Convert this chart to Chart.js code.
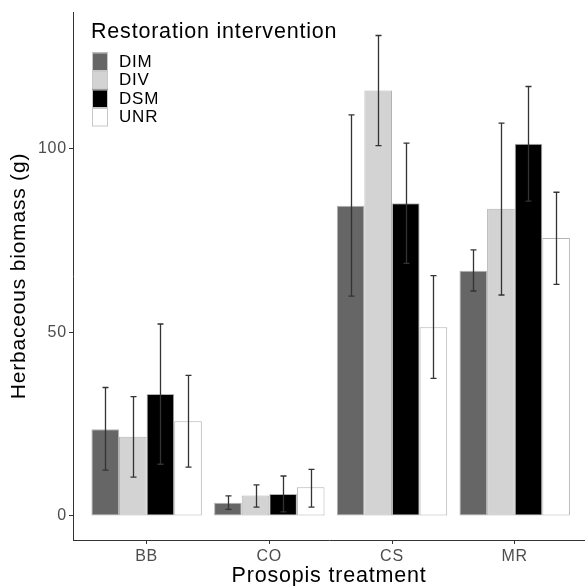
<!DOCTYPE html>
<html>
<head>
<meta charset="utf-8">
<script src="https://cdn.jsdelivr.net/npm/chart.js@4"></script>
<style>
  html, body { margin: 0; padding: 0; background: #fff; }
  canvas { display: block; }
</style>
</head>
<body>
<canvas id="myChart" width="585" height="586"></canvas>
<script>
// Prosopis treatment on the x axis
const categories = ['BB', 'CO', 'CS', 'MR'];
const interventions = ['DIM', 'DIV', 'DSM', 'UNR'];
const yTicks = [0, 50, 100];

// mean herbaceous biomass (g)
const dimMean = [23.6, 3.6, 84.5, 66.8];
const divMean = [21.6, 5.6, 115.9, 83.7];
const dsmMean = [33.2, 6.0, 85.2, 101.4];
const unrMean = [25.8, 7.8, 51.4, 75.7];

// error bar ends
const dimLow = [12.5, 1.8, 59.9, 61.3];
const dimHigh = [35.0, 5.5, 109.3, 72.5];
const divLow = [10.6, 2.4, 100.9, 60.2];
const divHigh = [32.5, 8.5, 130.9, 107.0];
const dsmLow = [14.1, 1.1, 68.8, 85.8];
const dsmHigh = [52.3, 10.9, 101.6, 117.0];
const unrLow = [13.3, 2.4, 37.5, 63.1];
const unrHigh = [38.3, 12.7, 65.5, 88.2];

const means = [dimMean, divMean, dsmMean, unrMean];
const lows = [dimLow, divLow, dsmLow, unrLow];
const highs = [dimHigh, divHigh, dsmHigh, unrHigh];
const fills = ['#666666', '#d3d3d3', '#000000', '#ffffff'];

const FONT = "'Liberation Sans', Arial, sans-serif";

// the reference text runs a bit wide, so space the letters out slightly
const spacing = {
  id: 'spacing',
  beforeDraw(chart) {
    chart.ctx.letterSpacing = '0.8px';
  }
};

const errorBars = {
  id: 'errorBars',
  afterDatasetsDraw(chart) {
    const ctx = chart.ctx;
    const y = chart.scales.y;
    ctx.save();
    ctx.strokeStyle = '#333333';
    ctx.lineWidth = 1.3;
    chart.data.datasets.forEach((ds, d) => {
      chart.getDatasetMeta(d).data.forEach((bar, i) => {
        const x = Math.round(bar.x) + 0.5;
        const top = y.getPixelForValue(highs[d][i]);
        const bot = y.getPixelForValue(lows[d][i]);
        ctx.beginPath();
        ctx.moveTo(x, top); ctx.lineTo(x, bot);
        ctx.moveTo(x - 3, top); ctx.lineTo(x + 3, top);
        ctx.moveTo(x - 3, bot); ctx.lineTo(x + 3, bot);
        ctx.stroke();
      });
    });
    ctx.restore();
  }
};

const ggLegend = {
  id: 'ggLegend',
  afterDraw(chart) {
    const ctx = chart.ctx;
    ctx.save();
    ctx.fillStyle = '#000';
    ctx.font = '21.5px ' + FONT;
    ctx.textBaseline = 'alphabetic';
    ctx.textAlign = 'left';
    ctx.fillText('Restoration intervention', 91, 37.5);
    ctx.font = '17px ' + FONT;
    ctx.textBaseline = 'middle';
    chart.data.datasets.forEach((ds, d) => {
      const top = 52.5 + d * 18.5;
      ctx.fillStyle = ds.backgroundColor;
      ctx.fillRect(92, top, 16, 18.5);
      ctx.strokeStyle = '#c8c8c8';
      ctx.lineWidth = 1;
      ctx.strokeRect(92.5, top + 0.5, 15, 17.5);
      ctx.fillStyle = '#000';
      ctx.fillText(ds.label, 119, top + 9.5);
    });
    ctx.restore();
  }
};

const config = {
  type: 'bar',
  data: {
    datasets: interventions.map((name, d) => ({
      label: name,
      data: means[d].map((v, i) => ({ x: i + 1, y: v })),
      backgroundColor: fills[d],
      borderColor: '#b3b3b3',
      borderWidth: 1,
      borderSkipped: false,
      categoryPercentage: 0.9,
      barPercentage: 1.0
    }))
  },
  options: {
    responsive: false,
    animation: false,
    layout: { padding: { top: 12, right: 0, left: 0, bottom: 0 } },
    plugins: {
      legend: { display: false },
      tooltip: { enabled: false }
    },
    scales: {
      x: {
        type: 'linear',
        offset: false,
        min: 0.4,
        max: 4.573,
        afterBuildTicks: (s) => { s.ticks = categories.map((c, i) => ({ value: i + 1 })); },
        afterFit: (s) => { s.height = 46; },
        grid: { display: true, offset: false, drawOnChartArea: false, drawTicks: true, tickLength: 4, color: '#333333' },
        border: { display: true, color: '#333333', width: 1 },
        ticks: {
          autoSkip: false,
          maxRotation: 0,
          padding: 3,
          color: '#4d4d4d',
          font: { family: FONT, size: 16 },
          callback: (v) => categories[v - 1]
        },
        title: {
          display: true,
          text: 'Prosopis treatment',
          color: '#000',
          font: { family: FONT, size: 21.5 },
          padding: { top: 0, bottom: -3 }
        }
      },
      y: {
        min: -6.54,
        max: 137.3,
        afterBuildTicks: (s) => { s.ticks = yTicks.map(v => ({ value: v })); },
        afterFit: (s) => { s.width = 73; },
        grid: { display: true, drawOnChartArea: false, drawTicks: true, tickLength: 4, color: '#333333' },
        border: { display: true, color: '#333333', width: 1 },
        ticks: {
          padding: 2,
          color: '#4d4d4d',
          font: { family: FONT, size: 16 }
        },
        title: {
          display: true,
          text: 'Herbaceous biomass (g)',
          color: '#000',
          font: { family: FONT, size: 21 },
          padding: { top: 7, bottom: 0 }
        }
      }
    }
  },
  plugins: [spacing, errorBars, ggLegend]
};

new Chart(document.getElementById('myChart'), config);
</script>
</body>
</html>
